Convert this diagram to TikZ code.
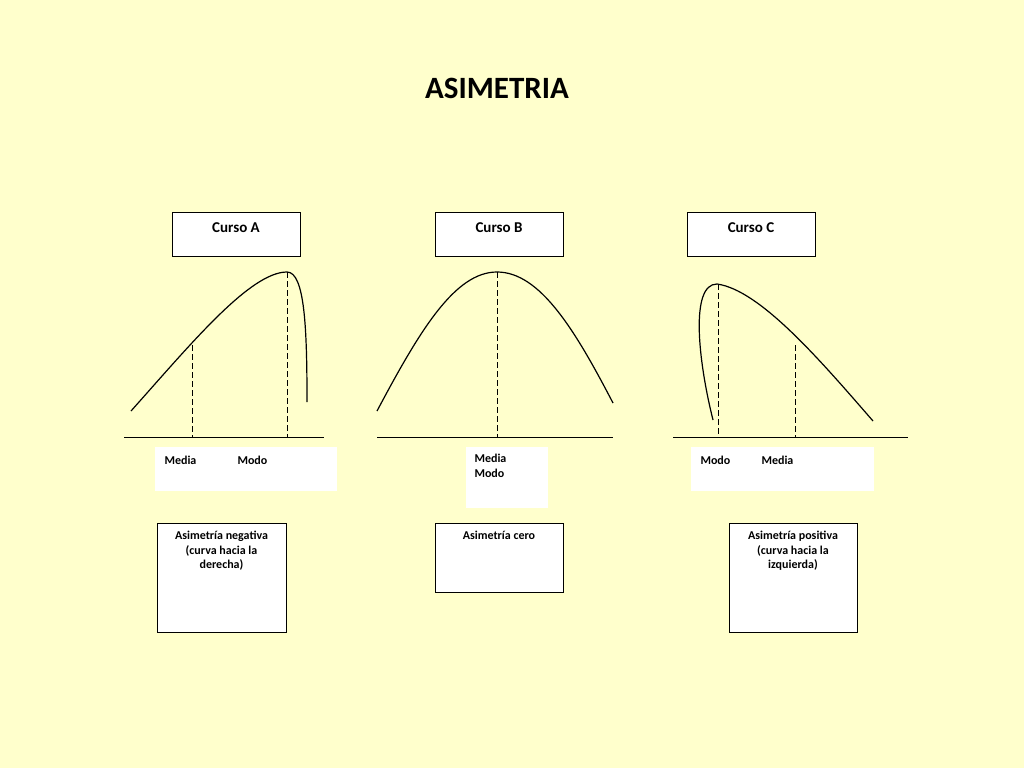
\documentclass[tikz,border=0pt]{standalone}
\usepackage{fontspec}
\setmainfont{Carlito}
\definecolor{bg}{RGB}{255,255,204}
\begin{document}
\begin{tikzpicture}[x=1pt,y=-1pt,
  box/.style={draw=black,fill=white,line width=0.8pt},
  curve/.style={line width=1.2pt},
  dline/.style={dash pattern=on 6pt off 3pt,line width=1pt},
  lbl/.style={font=\bfseries\fontsize{12}{14.5}\selectfont,anchor=west},
  ttl/.style={font=\bfseries\fontsize{15}{18}\selectfont}]
\fill[bg] (0,0) rectangle (1024,768);
\useasboundingbox (0,0) rectangle (1024,768);
\node[font=\bfseries\fontsize{31}{36}\selectfont] (title) at (497,88) {ASIMETRIA};
% header boxes
\draw[box] (172,212) rectangle (300,256); \node[ttl] (ca) at (236,228) {Curso A};
\draw[box] (435,212) rectangle (563,256); \node[ttl] (cb) at (499,228) {Curso B};
\draw[box] (687,212) rectangle (815,256); \node[ttl] (cc) at (751,228) {Curso C};
% curve A
\draw[curve] (131,411) .. controls (190,345) and (250,272) .. (287,272) .. controls (305,272) and (307,330) .. (307,402);
\draw[dline] (192,345) -- (192,437);
\draw[dline] (287,272) -- (287,437);
\draw[line width=0.8pt] (124,437) -- (324,437);
% curve B
\draw[curve] (377,411) .. controls (420,330) and (455,272) .. (497,272) .. controls (540,272) and (575,330) .. (613,403);
\draw[dline] (497,272) -- (497,437);
\draw[line width=0.8pt] (377,437) -- (613,437);
% curve C
\draw[curve] (713,420) .. controls (698,360) and (690,284) .. (717,284) .. controls (760,290) and (820,360) .. (873,421);
\draw[dline] (718,284) -- (718,437);
\draw[dline] (795,345) -- (795,437);
\draw[line width=0.8pt] (673,437) -- (908,437);
% label boxes
\fill[white] (155,447) rectangle (337,491);
\node[lbl] (ma) at (161,460) {Media};
\node[lbl] (moa) at (234,460) {Modo};
\fill[white] (466,447) rectangle (548,508);
\node[lbl,align=left,anchor=north west] (mb) at (471,451) {Media\\Modo};
\fill[white] (691,447) rectangle (874,491);
\node[lbl] (moc) at (697,460) {Modo};
\node[lbl] (mc) at (758,460) {Media};
% bottom boxes
\draw[box] (157,523) rectangle (286,632);
\node[lbl,anchor=north,align=center] (na) at (221.5,528) {Asimetría negativa\\(curva hacia la\\derecha)};
\draw[box] (435,523) rectangle (563,592);
\node[lbl,anchor=north,align=center] (nb) at (499,528) {Asimetría cero};
\draw[box] (729,523) rectangle (857,632);
\node[lbl,anchor=north,align=center] (nc) at (793,528) {Asimetría positiva\\(curva hacia la\\izquierda)};
\end{tikzpicture}
\end{document}
